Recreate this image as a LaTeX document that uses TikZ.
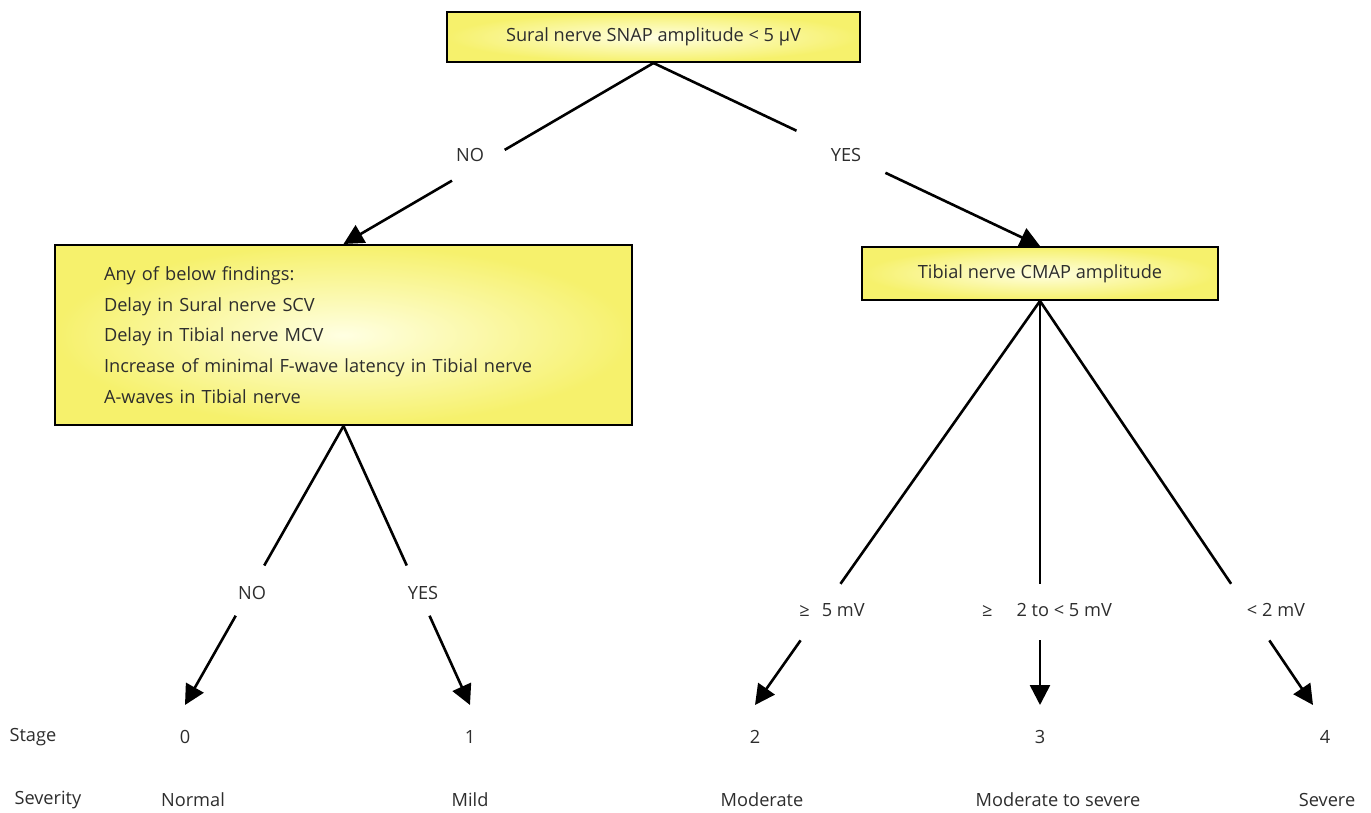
\documentclass[tikz,border=0pt]{standalone}
\usepackage{fontspec}
\setmainfont{Open Sans}
\usetikzlibrary{arrows.meta,calc}
\definecolor{ylw}{RGB}{246,241,108}
\definecolor{ylwc}{RGB}{255,255,226}
\definecolor{txt}{RGB}{45,45,45}
\begin{document}
\begin{tikzpicture}[x=1pt,y=-1pt,
  every node/.style={text=txt, font=\fontsize{18.2}{21}\selectfont},
  box/.style={draw=black, line width=2pt, shade, inner color=ylwc, outer color=ylw},
  conn/.style={line width=2.6pt, draw=black},
  arr/.style={conn, -{Triangle[length=20pt,width=20pt]}}]
\useasboundingbox (0,0) rectangle (1371,813);

% boxes
\node[box, minimum width=413pt, minimum height=50pt, inner sep=0pt] (top) at (653.5,37) {Sural nerve SNAP amplitude < 5 µV};
\node[box, minimum width=577pt, minimum height=180pt, inner xsep=49pt, inner ysep=0pt,
      text width=479pt, align=left, font=\fontsize{18.2}{30.7}\selectfont] (find) at (343.5,335)
  {Any of below findings:\\Delay in Sural nerve SCV\\Delay in Tibial nerve MCV\\Increase of minimal F-wave latency in Tibial nerve\\A-waves in Tibial nerve};
\node[box, minimum width=356pt, minimum height=53pt, inner sep=0pt] (tib) at (1040,273.5) {Tibial nerve CMAP amplitude};

% labels
\node (no1) at (470,155) {NO};
\node (yes1) at (846,155) {YES};
\node (no2) at (252,593) {NO};
\node (yes2) at (423,593) {YES};
\node (ge5) at (832,610) {≥\hspace{12pt}5 mV};
\node (mid) at (1047,610) {≥\hspace{24pt}2 to < 5 mV};
\node (lt2) at (1276,610) {< 2 mV};

% arrow tips
\coordinate (t0) at (185,705);
\coordinate (t1) at (470,705);
\coordinate (t2) at (755,705);
\coordinate (t3) at (1040,705);
\coordinate (t4) at (1313,705);

% stage/severity rows
\node[anchor=west] (stage) at (6,737) {Stage};
\node (s0) at (185,737) {0};
\node (s1) at (470,737) {1};
\node (s2) at (755,737) {2};
\node (s3) at (1040,737) {3};
\node (s4) at (1325,737) {4};
\node[anchor=west] (sev) at (11,800) {Severity};
\node (v0) at (193,800) {Normal};
\node (v1) at (470,800) {Mild};
\node (v2) at (762,800) {Moderate};
\node (v3) at (1058,800) {Moderate to severe};
\node (v4) at (1327,800) {Severe};

% connectors top
\path (top.south) -- (find.north) coordinate[pos=0.48] (a1) coordinate[pos=0.65] (a2);
\draw[conn] (top.south) -- (a1);
\draw[arr] (a2) -- (find.north);
\path (top.south) -- (tib.north) coordinate[pos=0.37] (b1) coordinate[pos=0.60] (b2);
\draw[conn] (top.south) -- (b1);
\draw[arr] (b2) -- (tib.north);

% connectors left
\path (find.south) -- (t0) coordinate[pos=0.50] (c1) coordinate[pos=0.68] (c2);
\draw[conn] (find.south) -- (c1);
\draw[arr] (c2) -- (t0);
\path (find.south) -- (t1) coordinate[pos=0.50] (d1) coordinate[pos=0.68] (d2);
\draw[conn] (find.south) -- (d1);
\draw[arr] (d2) -- (t1);

% connectors right
\path (tib.south) -- (t2) coordinate[pos=0.70] (e1) coordinate[pos=0.84] (e2);
\draw[conn] (tib.south) -- (e1);
\draw[arr] (e2) -- (t2);
\path (tib.south) -- (t3) coordinate[pos=0.70] (f1) coordinate[pos=0.84] (f2);
\draw[conn] (tib.south) -- (f1);
\draw[arr] (f2) -- (t3);
\path (tib.south) -- (t4) coordinate[pos=0.70] (g1) coordinate[pos=0.84] (g2);
\draw[conn] (tib.south) -- (g1);
\draw[arr] (g2) -- (t4);
\end{tikzpicture}
\end{document}
